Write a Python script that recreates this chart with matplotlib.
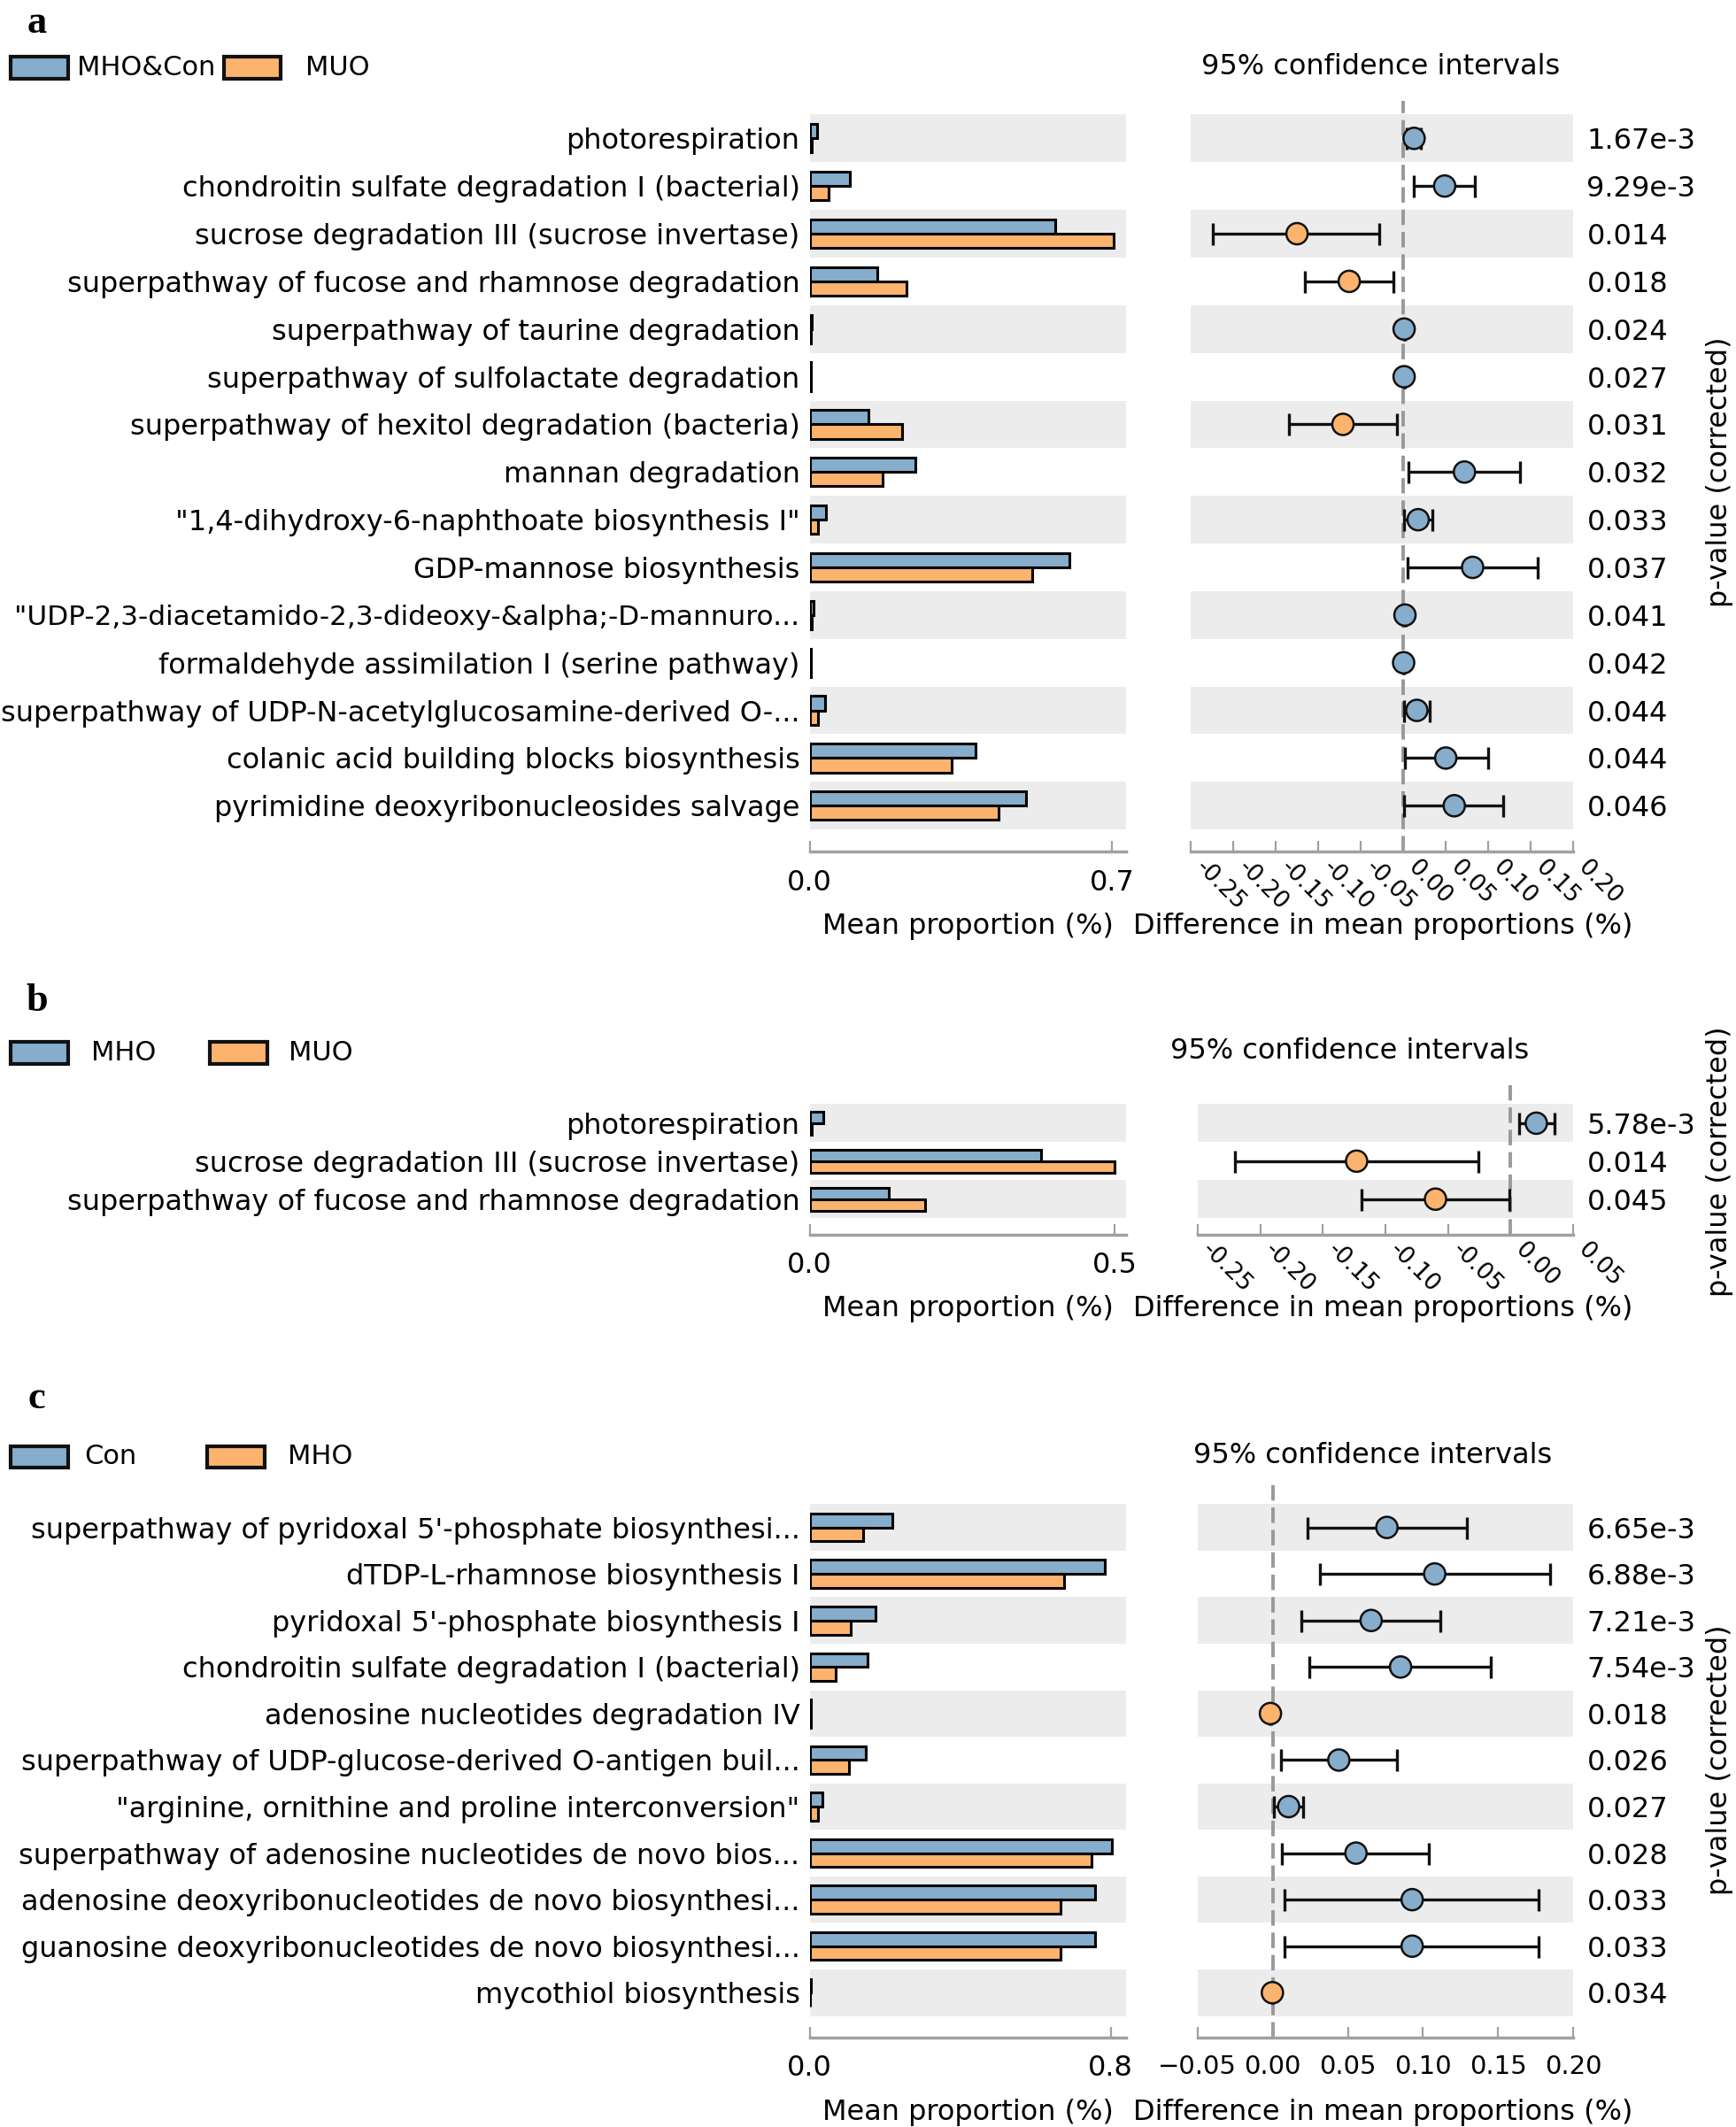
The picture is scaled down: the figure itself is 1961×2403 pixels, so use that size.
import matplotlib
matplotlib.use("Agg")
import matplotlib.pyplot as plt
from matplotlib.patches import Rectangle
from matplotlib.transforms import blended_transform_factory

# layout is measured on a 1280 x 1568 copy of the reference
W, H = 1280.0, 1568.0

BLUE = "#86ADCB"
ORANGE = "#FCB36D"
BAND = "#EBECEB"
SPINE = "#A0A0A0"
FS = 23

plt.rcParams["font.family"] = ["DejaVu Sans"]

# ---- panel a : MHO&Con vs MUO
a_groups = ["MHO&Con", "MUO"]
a_labels = [
    "photorespiration",
    "chondroitin sulfate degradation I (bacterial)",
    "sucrose degradation III (sucrose invertase)",
    "superpathway of fucose and rhamnose degradation",
    "superpathway of taurine degradation",
    "superpathway of sulfolactate degradation",
    "superpathway of hexitol degradation (bacteria)",
    "mannan degradation",
    '"1,4-dihydroxy-6-naphthoate biosynthesis I"',
    "GDP-mannose biosynthesis",
    '"UDP-2,3-diacetamido-2,3-dideoxy-&alpha;-D-mannuro...',
    "formaldehyde assimilation I (serine pathway)",
    "superpathway of UDP-N-acetylglucosamine-derived O-...",
    "colanic acid building blocks biosynthesis",
    "pyrimidine deoxyribonucleosides salvage",
]
a_mean1 = [0.018, 0.094, 0.569, 0.156, 0.005, 0.003, 0.137, 0.245, 0.038, 0.602, 0.008, 0.003, 0.036, 0.383, 0.501]
a_mean2 = [0.004, 0.044, 0.703, 0.225, 0.003, 0.002, 0.213, 0.169, 0.019, 0.515, 0.004, 0.002, 0.019, 0.329, 0.437]
a_diff = [0.0127, 0.0487, -0.125, -0.0636, 0.001, 0.001, -0.071, 0.072, 0.0175, 0.0816, 0.002, 0.0004, 0.016, 0.050, 0.060]
a_low = [0.004, 0.0127, -0.224, -0.116, 0.0005, 0.0005, -0.135, 0.0066, 0.0013, 0.005, 0.001, 0.0001, 0.0004, 0.002, 0.001]
a_high = [0.021, 0.0838, -0.028, -0.0114, 0.0015, 0.0015, -0.007, 0.137, 0.034, 0.158, 0.003, 0.0007, 0.031, 0.100, 0.118]
a_pvals = ["1.67e-3", "9.29e-3", "0.014", "0.018", "0.024", "0.027", "0.031", "0.032",
           "0.033", "0.037", "0.041", "0.042", "0.044", "0.044", "0.046"]
a_ci_ticks = [-0.25, -0.20, -0.15, -0.10, -0.05, 0.00, 0.05, 0.10, 0.15, 0.20]

# ---- panel b : MHO vs MUO
b_groups = ["MHO", "MUO"]
b_labels = [
    "photorespiration",
    "sucrose degradation III (sucrose invertase)",
    "superpathway of fucose and rhamnose degradation",
]
b_mean1 = [0.022, 0.380, 0.129]
b_mean2 = [0.004, 0.500, 0.189]
b_diff = [0.0205, -0.123, -0.060]
b_low = [0.0065, -0.2205, -0.119]
b_high = [0.035, -0.0256, -0.001]
b_pvals = ["5.78e-3", "0.014", "0.045"]
b_ci_ticks = [-0.25, -0.20, -0.15, -0.10, -0.05, 0.00, 0.05]

# ---- panel c : Con vs MHO
c_groups = ["Con", "MHO"]
c_labels = [
    "superpathway of pyridoxal 5'-phosphate biosynthesi...",
    "dTDP-L-rhamnose biosynthesis I",
    "pyridoxal 5'-phosphate biosynthesis I",
    "chondroitin sulfate degradation I (bacterial)",
    "adenosine nucleotides degradation IV",
    "superpathway of UDP-glucose-derived O-antigen buil...",
    '"arginine, ornithine and proline interconversion"',
    "superpathway of adenosine nucleotides de novo bios...",
    "adenosine deoxyribonucleotides de novo biosynthesi...",
    "guanosine deoxyribonucleotides de novo biosynthesi...",
    "mycothiol biosynthesis",
]
c_mean1 = [0.219, 0.784, 0.175, 0.153, 0.004, 0.150, 0.034, 0.804, 0.759, 0.759, 0.003]
c_mean2 = [0.142, 0.677, 0.109, 0.069, 0.003, 0.105, 0.023, 0.748, 0.666, 0.666, 0.002]
c_diff = [0.076, 0.1078, 0.0655, 0.0851, -0.0015, 0.044, 0.0106, 0.0554, 0.0928, 0.0928, -0.0002]
c_low = [0.0229, 0.0313, 0.0189, 0.0246, -0.002, 0.0054, 0.001, 0.0062, 0.0076, 0.0076, -0.0004]
c_high = [0.1294, 0.1848, 0.1115, 0.1452, -0.001, 0.0829, 0.020, 0.104, 0.177, 0.177, 0.0]
c_pvals = ["6.65e-3", "6.88e-3", "7.21e-3", "7.54e-3", "0.018", "0.026", "0.027", "0.028",
           "0.033", "0.033", "0.034"]
c_ci_ticks = [-0.05, 0.00, 0.05, 0.10, 0.15, 0.20]

fig = plt.figure(figsize=(19.61, 24.03), dpi=100)


def fx(x):
    return x / W


def fy(y):
    return 1 - y / H


def style_axis(ax, n, top_ext, bot_ext):
    for i in range(n):
        if i % 2 == 0:
            ax.axhspan(i - 0.5, i + 0.5, color=BAND, lw=0, zorder=0)
    ax.set_ylim(n - 1 + bot_ext, -0.5 - top_ext)
    for s in ("left", "right", "top"):
        ax.spines[s].set_visible(False)
    ax.spines["bottom"].set_color(SPINE)
    ax.spines["bottom"].set_linewidth(2.5)
    ax.tick_params(axis="x", direction="in", length=9, width=1.6, color=SPINE, labelsize=FS)
    ax.tick_params(axis="y", length=0)
    ax.set_facecolor("none")


def draw_panel(letter, groups, labels, m1, m2, diff, low, high, pvals,
               bar_lim, bar_tick, ci_lim, ci_ticks, rotate,
               y0, step, top_ext, bot_ext, ci_left,
               title_x, legend_x, legend_text_x, letter_y):
    n = len(labels)
    top = y0 - (0.5 + top_ext) * step
    bottom = y0 + (n - 1 + bot_ext) * step
    rows = list(range(n))

    # mean proportion bars
    axb = fig.add_axes([fx(597), fy(bottom), fx(830) - fx(597), (bottom - top) / H])
    style_axis(axb, n, top_ext, bot_ext)
    axb.barh([i - 0.15 for i in rows], m1, height=0.3, color=BLUE, edgecolor="black", linewidth=2.2, zorder=2)
    axb.barh([i + 0.15 for i in rows], m2, height=0.3, color=ORANGE, edgecolor="black", linewidth=2.2, zorder=2)
    axb.set_xlim(0, bar_lim)
    axb.set_xticks([0, bar_tick])
    axb.set_xticklabels(["0.0", "%.1f" % bar_tick])
    axb.tick_params(axis="x", pad=14)
    axb.set_yticks(rows)
    axb.set_yticklabels(labels, fontsize=FS)
    for t in axb.get_yticklabels():
        # this label just fits at the left edge of the figure
        if "&alpha;" in t.get_text():
            t.set_fontsize(22.4)
    axb.tick_params(axis="y", pad=8)

    # confidence intervals
    axc = fig.add_axes([fx(ci_left), fy(bottom), fx(1160) - fx(ci_left), (bottom - top) / H])
    style_axis(axc, n, top_ext, bot_ext)
    axc.axvline(0, color="#999999", lw=2.8, ls=(0, (4.5, 2)), zorder=1)
    xerr = [[d - l for d, l in zip(diff, low)], [h - d for d, h in zip(diff, high)]]
    axc.errorbar(diff, rows, xerr=xerr, fmt="none", ecolor="#111111", elinewidth=2.4,
                 capsize=9, capthick=2.4, zorder=3)
    cols = [BLUE if d > 0 else ORANGE for d in diff]
    axc.scatter(diff, rows, s=300, c=cols, edgecolors="#111111", linewidths=1.8, zorder=4)
    axc.set_xlim(*ci_lim)
    axc.set_xticks(ci_ticks)
    axc.set_yticks([])
    if rotate:
        axc.set_xticklabels(["%.2f" % t for t in ci_ticks], rotation=-45, ha="left", fontsize=19)
        axc.tick_params(axis="x", pad=3)
    else:
        axc.set_xticklabels([("%.2f" % t).replace("-", "\u2212") for t in ci_ticks], fontsize=21)
        axc.tick_params(axis="x", pad=14)
    trans = blended_transform_factory(axc.transAxes, axc.transData)
    xoff = 1 + 10.0 / (1160 - ci_left)
    for i, p in enumerate(pvals):
        axc.text(xoff, i, p, transform=trans, fontsize=FS, va="center_baseline", ha="left")

    # texts around the panel
    fig.text(fx(title_x), fy(y0 - 53), "95% confidence intervals", fontsize=FS, ha="center", va="center")
    fig.text(fx(714), fy(bottom + 55), "Mean proportion (%)", fontsize=FS, ha="center", va="center")
    fig.text(fx(1020), fy(bottom + 55), "Difference in mean proportions (%)", fontsize=FS,
             ha="center", va="center")
    fig.text(fx(1268), fy(y0 + (n - 1) * step / 2), "p-value (corrected)", fontsize=FS,
             rotation=90, ha="center", va="center")
    fig.text(fx(27), fy(letter_y), letter, fontsize=32, fontweight="bold",
             family="Liberation Serif", ha="center", va="center")

    # legend
    ly = y0 - 52
    for x, tx, col, g in zip(legend_x, legend_text_x, [BLUE, ORANGE], groups):
        fig.add_artist(Rectangle((fx(x), fy(ly + 8)), 42 / W, 16 / H, transform=fig.transFigure,
                                 facecolor=col, edgecolor="#111111", linewidth=3))
        fig.text(fx(tx), fy(ly), g, fontsize=22, ha="left", va="center")


draw_panel("a", a_groups, a_labels, a_mean1, a_mean2, a_diff, a_low, a_high, a_pvals,
           0.7314, 0.7, (-0.25, 0.20), a_ci_ticks, True,
           102, 35.14, 0.28, 0.97, 878, 1018, [8, 165], [57, 225], 17)
draw_panel("b", b_groups, b_labels, b_mean1, b_mean2, b_diff, b_low, b_high, b_pvals,
           0.518, 0.5, (-0.25, 0.05), b_ci_ticks, True,
           828, 28.0, 0.5, 0.93, 883, 995, [8, 155], [67, 213], 738)
draw_panel("c", c_groups, c_labels, c_mean1, c_mean2, c_diff, c_low, c_high, c_pvals,
           0.8396, 0.8, (-0.05, 0.20), c_ci_ticks, False,
           1126, 34.3, 0.47, 0.96, 883, 1012, [8, 153], [62, 212], 1031)

fig.savefig("out.png", dpi=100)
